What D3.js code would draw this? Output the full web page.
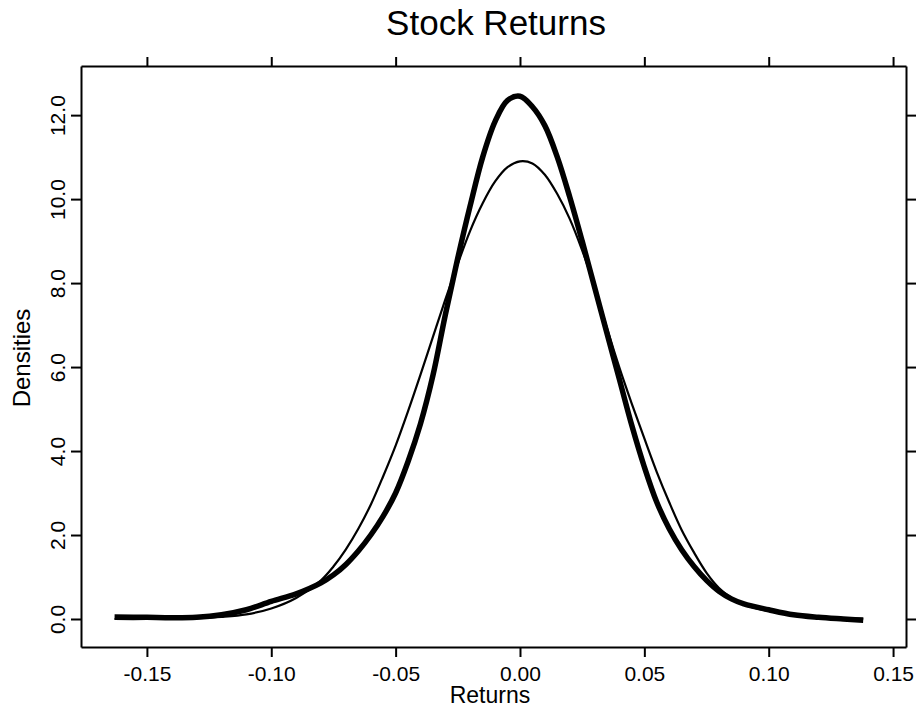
<!DOCTYPE html>
<html>
<head>
<meta charset="utf-8">
<script src="https://cdn.jsdelivr.net/npm/d3@7/dist/d3.min.js"></script>
<style>
  body { margin: 0; background: #fff; }
  svg { font-family: "Liberation Sans", Arial, Helvetica, sans-serif; }
  .axis path, .axis line { stroke: #000; stroke-width: 2; }
  .axis text { fill: #000; font-size: 21px; }
</style>
</head>
<body>
<script>
// ---- data ----
const returns = [-0.163, -0.15, -0.14, -0.13, -0.12, -0.11, -0.10, -0.09, -0.08, -0.075,
  -0.07, -0.065, -0.06, -0.055, -0.05, -0.045, -0.04, -0.035, -0.03, -0.025,
  -0.02, -0.015, -0.01, -0.005, 0.00, 0.005, 0.01, 0.015, 0.02, 0.025,
  0.03, 0.035, 0.04, 0.045, 0.05, 0.055, 0.06, 0.065, 0.07, 0.075,
  0.08, 0.085, 0.09, 0.10, 0.11, 0.12, 0.13, 0.138];

// thick curve: kernel density of the returns
const kernelDensity = [0.05, 0.04, 0.03, 0.04, 0.10, 0.22, 0.42, 0.60, 0.86, 1.05,
  1.30, 1.62, 2.00, 2.45, 3.00, 3.75, 4.65, 5.80, 7.25, 8.60,
  9.85, 11.00, 11.85, 12.35, 12.45, 12.20, 11.75, 11.00, 10.05, 9.00,
  7.90, 6.80, 5.70, 4.60, 3.62, 2.78, 2.15, 1.65, 1.25, 0.92,
  0.66, 0.48, 0.36, 0.22, 0.10, 0.04, 0.00, -0.03];

// thin curve: fitted normal density
const normalDensity = [0.00, 0.00, 0.01, 0.02, 0.05, 0.11, 0.25, 0.50, 0.92, 1.25,
  1.66, 2.15, 2.72, 3.40, 4.13, 4.95, 5.82, 6.72, 7.61, 8.46,
  9.25, 9.90, 10.42, 10.76, 10.90, 10.85, 10.58, 10.12, 9.53, 8.78,
  7.92, 6.92, 5.98, 5.12, 4.30, 3.50, 2.78, 2.12, 1.58, 1.10,
  0.74, 0.50, 0.34, 0.19, 0.10, 0.05, 0.02, 0.01];

const xTicks = [-0.15, -0.10, -0.05, 0.00, 0.05, 0.10, 0.15];
const xTickLabels = ['-0.15', '-0.10', '-0.05', '0.00', '0.05', '0.10', '0.15'];
const yTicks = [0, 2, 4, 6, 8, 10, 12];
const yTickLabels = ['0.0', '2.0', '4.0', '6.0', '8.0', '10.0', '12.0'];

// ---- layout ----
let width = 919, height = 709;
let margin = { top: 66, right: 13, bottom: 62, left: 81 };
let w = width - margin.left - margin.right,
    h = height - margin.top - margin.bottom;

let svg = d3.select('body').append('svg')
  .attr('width', width)
  .attr('height', height);

let g = svg.append('g')
  .attr('transform', `translate(${margin.left},${margin.top})`);

let x = d3.scaleLinear().domain([-0.1765, 0.1552]).range([0, w]);
let y = d3.scaleLinear().domain([-0.667, 13.17]).range([h, 0]);

// ---- axes ----
g.append('g').attr('class', 'axis')
  .attr('transform', `translate(0,${h})`)
  .call(d3.axisBottom(x).tickValues(xTicks).tickSize(10).tickPadding(9).tickSizeOuter(0)
    .tickFormat((d, i) => xTickLabels[i]));

g.append('g').attr('class', 'axis')
  .call(d3.axisTop(x).tickValues(xTicks).tickSize(9).tickSizeOuter(0).tickFormat(''));

let yAxis = g.append('g').attr('class', 'axis')
  .call(d3.axisLeft(y).tickValues(yTicks).tickSize(10).tickSizeOuter(0)
    .tickFormat((d, i) => yTickLabels[i]));

yAxis.selectAll('.tick text')
  .attr('transform', 'rotate(-90)')
  .attr('x', 0)
  .attr('y', -16)
  .attr('dy', 0)
  .style('text-anchor', 'middle');

g.append('g').attr('class', 'axis')
  .attr('transform', `translate(${w},0)`)
  .call(d3.axisRight(y).tickValues(yTicks).tickSize(10).tickSizeOuter(0).tickFormat(''));

// ---- curves ----
let line = d3.line()
  .x((d, i) => x(returns[i]))
  .y(d => y(d))
  .curve(d3.curveCatmullRom);

g.append('path')
  .datum(normalDensity)
  .attr('d', line)
  .attr('fill', 'none')
  .attr('stroke', '#000')
  .attr('stroke-width', 2.2);

g.append('path')
  .datum(kernelDensity)
  .attr('d', line)
  .attr('fill', 'none')
  .attr('stroke', '#000')
  .attr('stroke-width', 5.5)
  .attr('stroke-linejoin', 'round');

// ---- titles ----
svg.append('text')
  .attr('x', 496).attr('y', 35)
  .attr('text-anchor', 'middle')
  .style('font-size', '35px')
  .text('Stock Returns');

svg.append('text')
  .attr('x', 490).attr('y', 703)
  .attr('text-anchor', 'middle')
  .style('font-size', '23px')
  .text('Returns');

svg.append('text')
  .attr('transform', 'translate(30,358) rotate(-90)')
  .attr('text-anchor', 'middle')
  .style('font-size', '24px')
  .text('Densities');
</script>
</body>
</html>
